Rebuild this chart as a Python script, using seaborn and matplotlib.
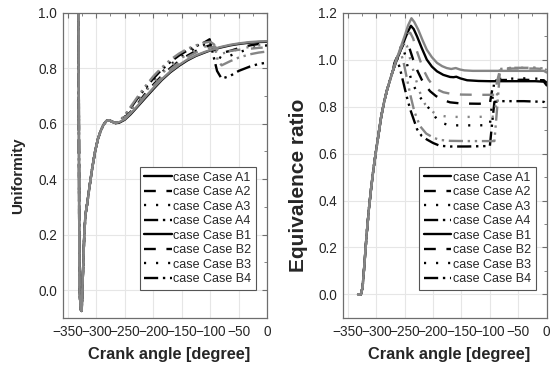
import matplotlib
matplotlib.use("Agg")
import matplotlib.pyplot as plt
from matplotlib.ticker import MultipleLocator
import seaborn as sns

# ---- data ----
cases = ["A1", "A2", "A3", "A4", "B1", "B2", "B3", "B4"]
labels = ["case Case " + c for c in cases]

# Uniformity: shared start (spike + first rise), then one tail per case
uni_rise_x = [-331, -330, -329.5, -327, -325.5, -323.5, -321, -319, -316, -312, -307,
              -302, -297, -292, -287, -282, -277, -272, -266]
uni_rise_y = [1.02, 0.3, 0.0, -0.07, -0.075, 0.05, 0.2, 0.27, 0.31, 0.37, 0.44,
              0.50, 0.545, 0.575, 0.597, 0.61, 0.612, 0.607, 0.602]

uni_a_x = [-260, -250, -240, -228, -215, -200, -185, -170, -155, -140, -125, -110,
           -101, -95, -88, -80, -65, -50, -30, -15, 0]
uni_b_x = [-260, -250, -240, -228, -215, -200, -185, -170, -155, -140, -125, -110,
           -100, -93, -87, -80, -65, -50, -30, -15, 0]

uni_A1 = [0.603, 0.614, 0.633, 0.66, 0.69, 0.724, 0.757, 0.785, 0.808, 0.828, 0.844, 0.856,
          0.863, 0.867, 0.871, 0.875, 0.882, 0.887, 0.892, 0.894, 0.895]
uni_A2 = [0.605, 0.622, 0.642, 0.67, 0.705, 0.74, 0.772, 0.80, 0.825, 0.845, 0.862, 0.876,
          0.882, 0.872, 0.858, 0.855, 0.862, 0.872, 0.882, 0.887, 0.889]
uni_A3 = [0.606, 0.625, 0.648, 0.68, 0.715, 0.752, 0.785, 0.812, 0.835, 0.855, 0.87, 0.884,
          0.89, 0.872, 0.845, 0.835, 0.845, 0.857, 0.87, 0.878, 0.882]
uni_A4 = [0.607, 0.628, 0.655, 0.69, 0.725, 0.762, 0.795, 0.822, 0.845, 0.864, 0.879, 0.893,
          0.904, 0.85, 0.79, 0.762, 0.772, 0.79, 0.806, 0.815, 0.82]
uni_B1 = [0.605, 0.616, 0.636, 0.663, 0.694, 0.728, 0.76, 0.788, 0.811, 0.831, 0.846, 0.858,
          0.865, 0.869, 0.873, 0.877, 0.884, 0.889, 0.894, 0.896, 0.897]
uni_B2 = [0.605, 0.62, 0.64, 0.667, 0.70, 0.735, 0.767, 0.795, 0.82, 0.84, 0.856, 0.868,
          0.874, 0.876, 0.865, 0.86, 0.862, 0.866, 0.87, 0.873, 0.875]
uni_B3 = [0.606, 0.624, 0.646, 0.677, 0.712, 0.748, 0.78, 0.808, 0.83, 0.85, 0.865, 0.877,
          0.883, 0.885, 0.86, 0.852, 0.86, 0.868, 0.877, 0.882, 0.885]
uni_B4 = [0.608, 0.63, 0.66, 0.695, 0.732, 0.77, 0.802, 0.83, 0.852, 0.87, 0.882, 0.892,
          0.895, 0.885, 0.83, 0.81, 0.825, 0.838, 0.85, 0.856, 0.86]

# Equivalence ratio: shared rise, then one tail per case
eq_rise_x = [-332, -327, -324, -321, -317, -313, -309, -305, -301, -296, -291, -286, -281, -276, -271]
eq_rise_y = [0.0, 0.0, 0.03, 0.12, 0.25, 0.36, 0.45, 0.53, 0.60, 0.68, 0.76, 0.82, 0.87, 0.91, 0.95]

eq_A1_x = [-265, -258, -250, -244, -239, -234, -228, -220, -211, -202, -193, -182, -170,
           -164, -159, -152, -140, -120, -100, -60, -20, -5, 0]
eq_A1_y = [0.99, 1.035, 1.085, 1.12, 1.144, 1.13, 1.098, 1.05, 1.0, 0.97, 0.95, 0.935, 0.926,
           0.925, 0.927, 0.92, 0.912, 0.909, 0.908, 0.908, 0.908, 0.906, 0.89]
eq_B1_x = [-265, -258, -250, -244, -238, -233, -226, -218, -211, -202, -193, -184, -176,
           -168, -160, -153, -145, -130, -100, -60, -20, -5, 0]
eq_B1_y = [0.995, 1.045, 1.1, 1.145, 1.176, 1.16, 1.127, 1.08, 1.042, 1.01, 0.986, 0.972, 0.964,
           0.96, 0.964, 0.958, 0.954, 0.952, 0.952, 0.952, 0.952, 0.952, 0.945]

eq_A2_x = [-265, -257, -250, -243, -235, -227, -220, -212, -205, -195, -185, -170, -150, -120,
           -100, -96, -92, -80, -40, -5, 0]
eq_A2_y = [0.99, 1.04, 1.075, 1.06, 1.0, 0.95, 0.915, 0.885, 0.865, 0.845, 0.83, 0.818, 0.813,
           0.812, 0.813, 0.87, 0.91, 0.913, 0.914, 0.912, 0.9]
eq_B2_x = [-265, -256, -249, -244, -240, -235, -229, -217, -208, -199, -190, -182, -170, -150,
           -120, -92, -87, -82, -60, -20, -5, 0]
eq_B2_y = [0.995, 1.05, 1.09, 1.11, 1.114, 1.09, 1.04, 0.957, 0.915, 0.886, 0.87, 0.861, 0.855,
           0.851, 0.85, 0.85, 0.91, 0.958, 0.962, 0.962, 0.96, 0.95]
eq_A3_x = [-265, -259, -255, -249, -243, -235, -226, -217, -208, -200, -193, -182, -170, -150,
           -120, -100, -96, -92, -80, -40, -5, 0]
eq_A3_y = [0.99, 1.04, 1.063, 1.02, 0.95, 0.893, 0.851, 0.82, 0.795, 0.77, 0.745, 0.728, 0.72,
           0.72, 0.72, 0.721, 0.82, 0.915, 0.918, 0.92, 0.918, 0.905]
eq_B3_x = [-265, -257, -252, -246, -240, -232, -223, -214, -205, -196, -188, -175, -160, -130,
           -92, -87, -82, -60, -20, -5, 0]
eq_B3_y = [0.995, 1.05, 1.075, 1.06, 1.0, 0.93, 0.86, 0.81, 0.785, 0.77, 0.762, 0.757, 0.756,
           0.756, 0.757, 0.86, 0.962, 0.965, 0.965, 0.962, 0.955]
eq_A4_x = [-268, -264, -258, -252, -246, -240, -234, -228, -220, -211, -200, -188, -170, -140,
           -100, -96, -92, -80, -40, -5, 0]
eq_A4_y = [0.985, 1.008, 0.96, 0.9, 0.84, 0.787, 0.745, 0.703, 0.675, 0.66, 0.645, 0.633, 0.63,
           0.63, 0.632, 0.73, 0.82, 0.823, 0.823, 0.82, 0.8]
eq_B4_x = [-266, -261, -258, -252, -246, -240, -233, -223, -212, -199, -188, -170, -140, -92,
           -87, -82, -60, -20, -5, 0]
eq_B4_y = [0.99, 1.025, 1.04, 0.99, 0.92, 0.85, 0.78, 0.717, 0.685, 0.667, 0.658, 0.654, 0.653,
           0.653, 0.8, 0.96, 0.965, 0.965, 0.962, 0.955]

uni_tails = [(uni_a_x, uni_A1), (uni_a_x, uni_A2), (uni_a_x, uni_A3), (uni_a_x, uni_A4),
             (uni_b_x, uni_B1), (uni_b_x, uni_B2), (uni_b_x, uni_B3), (uni_b_x, uni_B4)]
eq_tails = [(eq_A1_x, eq_A1_y), (eq_A2_x, eq_A2_y), (eq_A3_x, eq_A3_y), (eq_A4_x, eq_A4_y),
            (eq_B1_x, eq_B1_y), (eq_B2_x, eq_B2_y), (eq_B3_x, eq_B3_y), (eq_B4_x, eq_B4_y)]

# ---- styles ----
colors = ["black"] * 4 + ["#858585"] * 4
styles = ["-", (0, (5, 4.5)), (0, (0.9, 4.2)), (0, (6, 2, 1, 2, 1, 2))] * 2

sns.set_style("whitegrid")
plt.rcParams["font.family"] = ["Liberation Sans", "DejaVu Sans"]
plt.rcParams["axes.edgecolor"] = "#6e6e6e"
plt.rcParams["grid.color"] = "#e6e6e6"

fig = plt.figure(figsize=(5.59, 3.71), dpi=100)
ax1 = fig.add_axes([0.112, 0.143, 0.366, 0.823])
ax2 = fig.add_axes([0.613, 0.143, 0.365, 0.823])


def draw(ax, rise_x, rise_y, tails):
    for (tx, ty), lab, col, ls in zip(tails, labels, colors, styles):
        xs = rise_x + tx
        ys = rise_y + ty
        sns.lineplot(x=xs, y=ys, ax=ax, color=col, linestyle=ls, linewidth=1.7,
                     sort=False, estimator=None, label=lab)
    ax.set_xlim(-359, 0)
    ax.xaxis.set_major_locator(MultipleLocator(50))
    ax.xaxis.set_minor_locator(MultipleLocator(25))
    ax.yaxis.set_minor_locator(MultipleLocator(0.1))
    ax.tick_params(which="both", direction="in", top=True, right=True, labelsize=9.8,
                   color="#6e6e6e")
    ax.tick_params(axis="x", pad=5)
    ax.tick_params(axis="y", pad=4)
    ax.tick_params(which="major", length=3.5)
    ax.tick_params(which="minor", length=2)
    ax.grid(True, which="major", color="#e6e6e6", linewidth=0.8)
    for s in ax.spines.values():
        s.set_linewidth(0.9)
        s.set_color("#6e6e6e")
    ax.set_xlabel("Crank angle [degree]", fontsize=11.8, fontweight="bold")
    ax.xaxis.set_label_coords(0.52, -0.095)
    leg = ax.legend(loc="lower right", bbox_to_anchor=(0.946, 0.092), fontsize=9,
                    frameon=True, fancybox=False, edgecolor="#555555", framealpha=1,
                    handlelength=2.2, handletextpad=0.12, labelspacing=0.2,
                    borderpad=0.38, borderaxespad=0)
    for ln in leg.get_lines():
        ln.set_color("black")
    leg.get_frame().set_linewidth(0.8)


draw(ax1, uni_rise_x, uni_rise_y, uni_tails)
ax1.set_ylim(-0.1, 1.0)
ax1.set_yticks([0.0, 0.2, 0.4, 0.6, 0.8, 1.0])
ax1.set_ylabel("Uniformity", fontsize=11, fontweight="bold")
ax1.yaxis.set_label_coords(-0.185, 0.466)

draw(ax2, eq_rise_x, eq_rise_y, eq_tails)
ax2.set_ylim(-0.1, 1.2)
ax2.set_yticks([0.0, 0.2, 0.4, 0.6, 0.8, 1.0, 1.2])
ax2.set_ylabel("Equivalence ratio", fontsize=15, fontweight="bold")
ax2.yaxis.set_label_coords(-0.17, 0.436)

fig.savefig("out.png", dpi=100)
